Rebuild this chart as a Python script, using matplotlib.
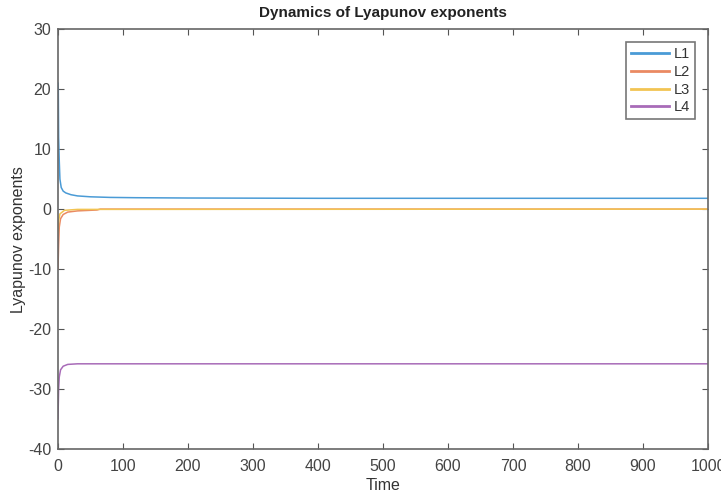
import matplotlib.pyplot as plt

plt.rcParams['font.family'] = ['Liberation Sans', 'DejaVu Sans']
plt.rcParams['axes.unicode_minus'] = False

# Values
t1 = [0, 0.5, 1, 2, 3, 5, 8, 12, 20, 30, 50, 80, 120, 200, 400, 700, 1000]
L1 = [21, 20, 12, 8, 5, 3.6, 3.0, 2.7, 2.4, 2.2, 2.05, 1.95, 1.9, 1.85, 1.8, 1.8, 1.8]

t2 = [0, 1, 2, 4, 8, 15, 30, 60, 65, 1000]
L2 = [-10, -6, -3, -1.6, -0.9, -0.5, -0.3, -0.15, 0, 0]

t3 = [0, 1, 3, 10, 30, 1000]
L3 = [-4, -2, -0.8, -0.2, -0.05, 0]

t4 = [0, 1, 2, 4, 8, 15, 30, 1000]
L4 = [-35, -30, -28, -26.8, -26.2, -25.9, -25.8, -25.8]

series = [(t1, L1, 'L1', '#4a9bd6'), (t2, L2, 'L2', '#ea8a62'),
          (t3, L3, 'L3', '#f2c453'), (t4, L4, 'L4', '#a86bb8')]

fig = plt.figure(figsize=(7.21, 4.95), dpi=100)
ax = fig.add_axes([0.0804, 0.093, 0.9016, 0.848])

for t, v, name, c in series:
    ax.plot(t, v, color=c, lw=1.1, label=name)

ax.set_xlim(0, 1000)
ax.set_ylim(-40, 30)
ax.set_xticks(range(0, 1001, 100))
ax.set_yticks(range(-40, 31, 10))
ax.tick_params(direction='in', top=True, right=True, length=4, colors='#555555',
               labelsize=11.5, labelcolor='#444444')
ax.tick_params(axis='x', pad=7)
ax.tick_params(axis='y', pad=5)
for s in ax.spines.values():
    s.set_color('#666666')
    s.set_linewidth(1.2)

ax.set_xlabel('Time', fontsize=11.5, color='#333333', labelpad=3)
ax.set_ylabel('Lyapunov exponents', fontsize=11.5, color='#333333', labelpad=1)
ax.set_title('Dynamics of Lyapunov exponents', fontsize=11, fontweight='bold',
             color='#222222', pad=9)

leg = ax.legend(loc='upper right', fancybox=False, fontsize=10.5, handlelength=2.6,
                borderaxespad=0.9, labelspacing=0.25, handletextpad=0.3,
                borderpad=0.35)
leg.get_frame().set_edgecolor('#555555')
leg.get_frame().set_linewidth(1.2)
for txt in leg.get_texts():
    txt.set_color('#333333')
for line in leg.get_lines():
    line.set_linewidth(2)

fig.savefig('out.png', dpi=100)
